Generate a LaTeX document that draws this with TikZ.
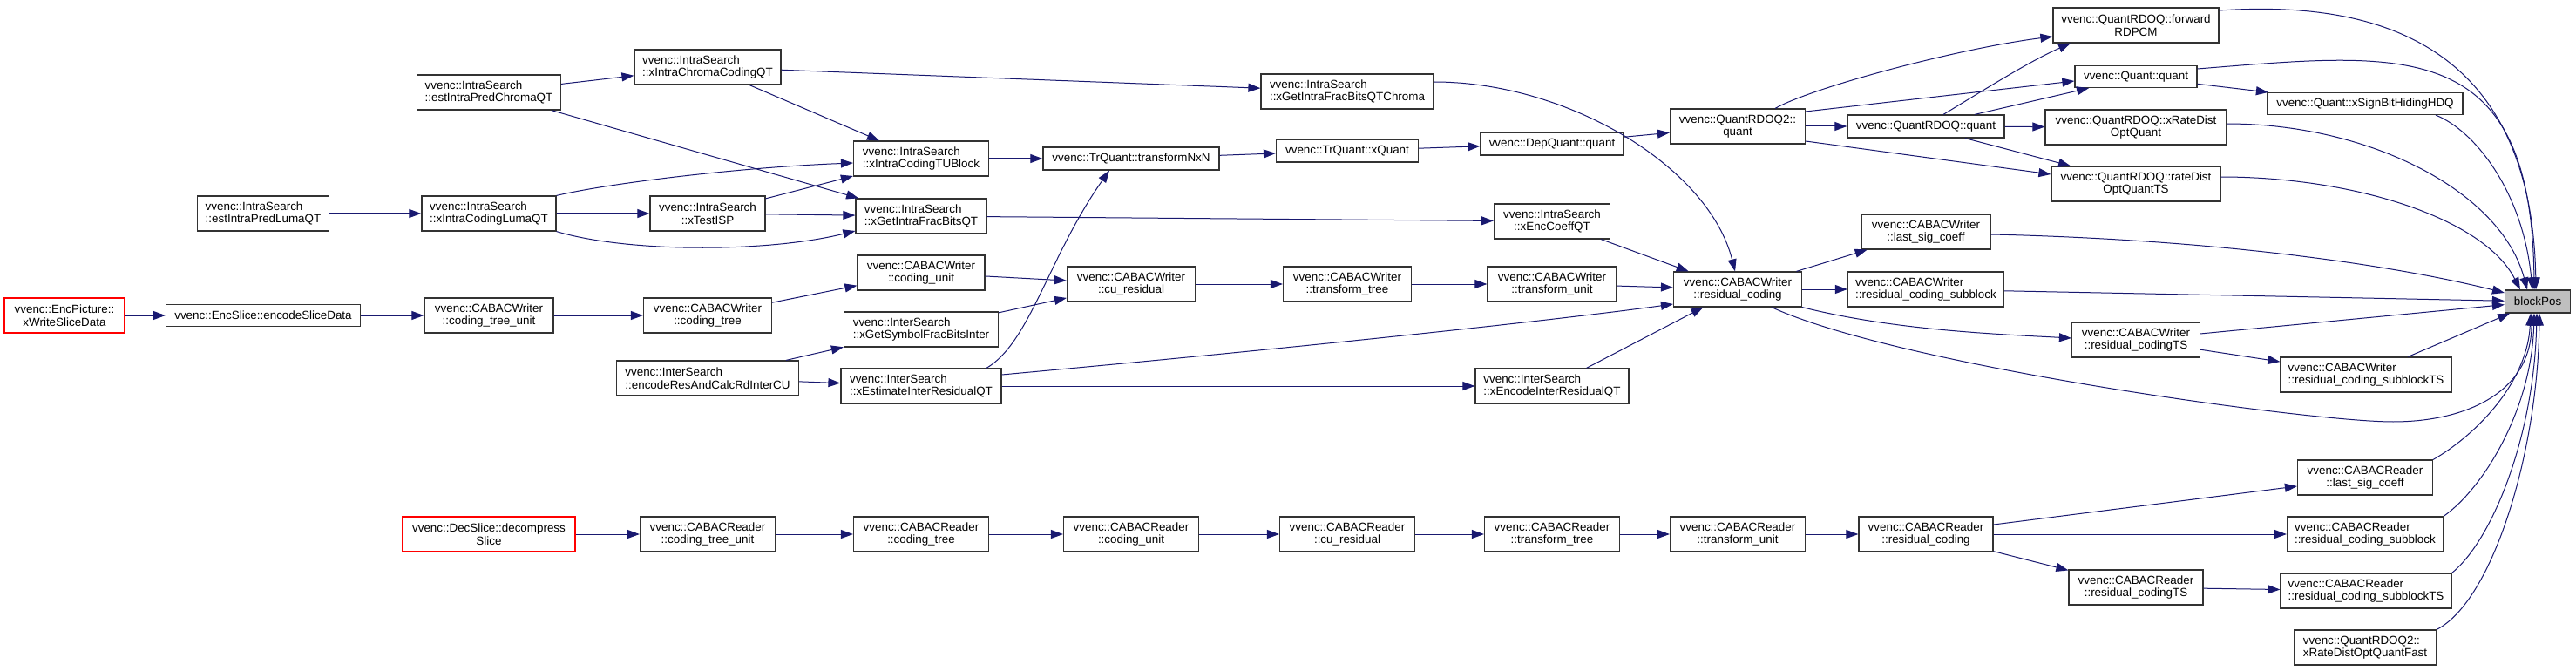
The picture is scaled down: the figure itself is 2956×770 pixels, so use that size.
\documentclass[tikz,border=0pt]{standalone}
\usepackage{fontspec}
\setmainfont{Liberation Sans}
\usetikzlibrary{arrows.meta}
\definecolor{edgeblue}{HTML}{191970}
\begin{document}
\begin{tikzpicture}[x=1pt, y=-1pt,
    fn/.style={draw=black!80, fill=white, line width=1.2pt, inner sep=2pt,
      minimum height=40pt, align=center, font=\fontsize{13.4}{14.5}\selectfont},
    fnl/.style={fn, align=left},
    fnone/.style={fn, minimum height=26pt},
    entry/.style={fn, draw=red},
    target/.style={fnone, fill=gray!50},
    call/.style={draw=edgeblue, line width=1pt, -{Triangle[length=14pt,width=10pt]}}]
  \fill[white] (0,0) rectangle (2956,770);
  \useasboundingbox (0,0) rectangle (2956,770);

  % encoder side
  \node[entry, minimum width=138pt] (wsd) at (74,362) {vvenc::EncPicture::\\xWriteSliceData};
  \node[fnone, minimum width=223pt, minimum height=25pt] (esd) at (302,362) {vvenc::EncSlice::encodeSliceData};
  \node[fn, minimum width=148pt] (wctu) at (561,362) {vvenc::CABACWriter\\::coding\_tree\_unit};
  \node[fn, minimum width=147pt] (wct) at (812,362) {vvenc::CABACWriter\\::coding\_tree};
  \node[fn, minimum width=146pt] (wcu) at (1057,313) {vvenc::CABACWriter\\::coding\_unit};
  \node[fnl, minimum width=177pt] (gsfb) at (1057,378) {vvenc::InterSearch\\::xGetSymbolFracBitsInter};
  \node[fnl, minimum width=209pt] (ercu) at (812,434) {vvenc::InterSearch\\::encodeResAndCalcRdInterCU};
  \node[fnl, minimum width=184pt] (eirq) at (1057,443) {vvenc::InterSearch\\::xEstimateInterResidualQT};
  \node[fn, minimum width=147pt] (wcur) at (1298,326) {vvenc::CABACWriter\\::cu\_residual};
  \node[fn, minimum width=147pt] (wtt) at (1546,326) {vvenc::CABACWriter\\::transform\_tree};
  \node[fn, minimum width=148pt] (wtu) at (1781,326) {vvenc::CABACWriter\\::transform\_unit};
  \node[fn, minimum width=147pt] (wrc) at (1994,332) {vvenc::CABACWriter\\::residual\_coding};
  \node[fnl, minimum width=176pt] (enirq) at (1781,443) {vvenc::InterSearch\\::xEncodeInterResidualQT};
  \node[fn, minimum width=133pt] (eco) at (1781,254) {vvenc::IntraSearch\\::xEncCoeffQT};

  % intra search
  \node[fnl, minimum width=165pt] (epcq) at (561,106) {vvenc::IntraSearch\\::estIntraPredChromaQT};
  \node[fnl, minimum width=168pt] (iccq) at (812,77) {vvenc::IntraSearch\\::xIntraChromaCodingQT};
  \node[fnl, minimum width=151pt] (eplq) at (302,245) {vvenc::IntraSearch\\::estIntraPredLumaQT};
  \node[fnl, minimum width=154pt] (iclq) at (561,245) {vvenc::IntraSearch\\::xIntraCodingLumaQT};
  \node[fn, minimum width=132pt] (tisp) at (812,245) {vvenc::IntraSearch\\::xTestISP};
  \node[fnl, minimum width=155pt] (ictu) at (1057,182) {vvenc::IntraSearch\\::xIntraCodingTUBlock};
  \node[fnl, minimum width=150pt] (gifb) at (1057,248) {vvenc::IntraSearch\\::xGetIntraFracBitsQT};
  \node[fnone, minimum width=202pt] (tnxn) at (1298,182) {vvenc::TrQuant::transformNxN};
  \node[fnone, minimum width=163pt] (xq) at (1546,173) {vvenc::TrQuant::xQuant};
  \node[fnl, minimum width=198pt] (gifc) at (1546,105) {vvenc::IntraSearch\\::xGetIntraFracBitsQTChroma};

  % quantisers
  \node[fnone, minimum width=164pt] (dq) at (1781,165) {vvenc::DepQuant::quant};
  \node[fn, minimum width=155pt] (rq2) at (1994,145) {vvenc::QuantRDOQ2::\\quant};
  \node[fnone, minimum width=180pt] (rq) at (2210,145) {vvenc::QuantRDOQ::quant};
  \node[fn, minimum width=190pt] (fwd) at (2451,29) {vvenc::QuantRDOQ::forward\\RDPCM};
  \node[fnone, minimum width=140pt, minimum height=25pt] (qq) at (2451,88) {vvenc::Quant::quant};
  \node[fnone, minimum width=224pt, minimum height=25pt] (sbh) at (2714,119) {vvenc::Quant::xSignBitHidingHDQ};
  \node[fn, minimum width=208pt] (rdoq) at (2451,146) {vvenc::QuantRDOQ::xRateDist\\OptQuant};
  \node[fn, minimum width=194pt] (rdts) at (2451,211) {vvenc::QuantRDOQ::rateDist\\OptQuantTS};
  \node[fn, minimum width=148pt] (wlsc) at (2210,266) {vvenc::CABACWriter\\::last\_sig\_coeff};
  \node[fnl, minimum width=179pt] (wrcs) at (2210,332) {vvenc::CABACWriter\\::residual\_coding\_subblock};
  \node[fn, minimum width=147pt] (wrcts) at (2451,390) {vvenc::CABACWriter\\::residual\_codingTS};
  \node[fnl, minimum width=196pt] (wrcsts) at (2715,430) {vvenc::CABACWriter\\::residual\_coding\_subblockTS};
  \node[target, minimum width=75pt] (bp) at (2912,346) {blockPos};

  % decoder side
  \node[entry, minimum width=198pt] (ds) at (561,613) {vvenc::DecSlice::decompress\\Slice};
  \node[fn, minimum width=155pt] (rctu) at (812,613) {vvenc::CABACReader\\::coding\_tree\_unit};
  \node[fn, minimum width=155pt] (rct) at (1057,613) {vvenc::CABACReader\\::coding\_tree};
  \node[fn, minimum width=155pt] (rcu) at (1298,613) {vvenc::CABACReader\\::coding\_unit};
  \node[fn, minimum width=155pt] (rcur) at (1546,613) {vvenc::CABACReader\\::cu\_residual};
  \node[fn, minimum width=155pt] (rtt) at (1781,613) {vvenc::CABACReader\\::transform\_tree};
  \node[fn, minimum width=155pt] (rtu) at (1994,613) {vvenc::CABACReader\\::transform\_unit};
  \node[fn, minimum width=154pt] (rrc) at (2210,613) {vvenc::CABACReader\\::residual\_coding};
  \node[fn, minimum width=155pt] (rlsc) at (2714,548) {vvenc::CABACReader\\::last\_sig\_coeff};
  \node[fnl, minimum width=179pt] (rrcs) at (2714,613) {vvenc::CABACReader\\::residual\_coding\_subblock};
  \node[fn, minimum width=154pt] (rrcts) at (2451,674) {vvenc::CABACReader\\::residual\_codingTS};
  \node[fnl, minimum width=196pt] (rrcsts) at (2715,678) {vvenc::CABACReader\\::residual\_coding\_subblockTS};
  \node[fnl, minimum width=163pt] (rdqf) at (2714,743) {vvenc::QuantRDOQ2::\\xRateDistOptQuantFast};

  % encoder calls
  \draw[call] (wsd) -- (esd);
  \draw[call] (esd) -- (wctu);
  \draw[call] (wctu) -- (wct);
  \draw[call] (wct) -- (wcu);
  \draw[call] (wcu) -- (wcur);
  \draw[call] (gsfb) -- (wcur);
  \draw[call] (ercu) -- (gsfb);
  \draw[call] (ercu) -- (eirq);
  \draw[call] (wcur) -- (wtt);
  \draw[call] (wtt) -- (wtu);
  \draw[call] (wtu) -- (wrc);
  \draw[call] (eirq) -- (enirq);
  \draw[call] (enirq) -- (wrc);
  \draw[call] ([yshift=13pt]eirq.east) .. controls (1500,398) and (1780,368) .. ([yshift=-17pt]wrc.west);
  \draw[call] ([xshift=75pt]eirq.north) .. controls (1182,393) and (1203,295) .. ([xshift=-25pt]tnxn.south);

  % intra calls
  \draw[call] (epcq) -- (iccq);
  \draw[call] (epcq) -- (gifb);
  \draw[call] (iccq) -- (ictu);
  \draw[call] (iccq) -- (gifc);
  \draw[call] (eplq) -- (iclq);
  \draw[call] (iclq.north east) .. controls (700,210) and (850,192) .. ([yshift=-5pt]ictu.west);
  \draw[call] (iclq) -- (tisp);
  \draw[call] (iclq.south east) .. controls (720,290) and (880,290) .. ([yshift=-17pt]gifb.west);
  \draw[call] (tisp) -- (ictu);
  \draw[call] (tisp) -- (gifb);
  \draw[call] (ictu) -- (tnxn);
  \draw[call] (gifb) -- (eco);
  \draw[call] (tnxn) -- (xq);
  \draw[call] (xq) -- (dq);
  \draw[call] (dq) -- (rq2);
  \draw[call] (eco) -- (wrc);
  \draw[call] ([yshift=11pt]gifc.east) .. controls (1800,94) and (1961,192) .. ([xshift=-3pt]wrc.north);

  % quantiser calls
  \draw[call] ([xshift=43pt]rq2.north) .. controls (2080,100) and (2250,55) .. ([yshift=-13pt]fwd.west);
  \draw[call] ([yshift=17pt]rq2.east) -- ([yshift=-5pt]qq.west);
  \draw[call] (rq2) -- (rq);
  \draw[call] ([yshift=-17pt]rq2.east) -- ([yshift=11pt]rdts.west);
  \draw[call] ([xshift=20pt]rq.north) .. controls (2290,95) and (2330,70) .. ([xshift=-75pt]fwd.south);
  \draw[call] ([xshift=56pt]rq.north) -- ([xshift=-54pt]qq.south);
  \draw[call] (rq) -- (rdoq);
  \draw[call] ([xshift=45pt]rq.south) -- ([xshift=-75pt]rdts.north);
  \draw[call] (qq) -- (sbh);
  \draw[call] (wrc) -- (wlsc);
  \draw[call] (wrc) -- (wrcs);
  \draw[call] (wrc.south east) .. controls (2170,378) and (2280,383) .. ([yshift=2pt]wrcts.west);
  \draw[call] (wrcts) -- (wrcsts);

  % into blockPos, from above
  \draw[call] ([yshift=17pt]fwd.east) .. controls (2700,2) and (2905,30) .. ([xshift=-2pt]bp.north);
  \draw[call] ([yshift=9pt]qq.east) .. controls (2760,60) and (2905,40) .. ([xshift=-4pt]bp.north);
  \draw[call] ([xshift=81pt]sbh.south) .. controls (2840,150) and (2895,220) .. ([xshift=-6pt]bp.north);
  \draw[call] ([yshift=4pt]rdoq.east) .. controls (2720,142) and (2870,220) .. ([xshift=-12pt]bp.north);
  \draw[call] ([yshift=8pt]rdts.east) .. controls (2700,203) and (2850,250) .. ([xshift=-20pt]bp.north);
  \draw[call] ([yshift=-3pt]wlsc.east) .. controls (2550,275) and (2750,305) .. ([yshift=10pt]bp.west);
  \draw[call] (wrcs) -- (bp);
  \draw[call] (wrcts) -- (bp);
  \draw[call] (wrcsts) -- (bp);
  \coordinate (dip) at (2746,484);
  \draw[call] ([xshift=39pt]wrc.south) .. controls (2180,420) and (2650,484) .. (dip)
    .. controls (2830,484) and (2905,450) .. ([xshift=-7pt]bp.south);

  % decoder calls
  \draw[call] (ds) -- (rctu);
  \draw[call] (rctu) -- (rct);
  \draw[call] (rct) -- (rcu);
  \draw[call] (rcu) -- (rcur);
  \draw[call] (rcur) -- (rtt);
  \draw[call] (rtt) -- (rtu);
  \draw[call] (rtu) -- (rrc);
  \draw[call] ([yshift=11pt]rrc.east) -- ([yshift=-10pt]rlsc.west);
  \draw[call] (rrc) -- (rrcs);
  \draw[call] (rrc) -- (rrcts);
  \draw[call] (rrcts) -- (rrcsts);

  % into blockPos, from below
  \draw[call] (rlsc.north east) .. controls (2840,500) and (2900,440) .. ([xshift=-8pt]bp.south);
  \draw[call] (rrcs.north east) .. controls (2850,560) and (2905,470) .. ([xshift=-4pt]bp.south);
  \draw[call] (rrcsts.north east) .. controls (2860,620) and (2908,500) .. ([xshift=-1pt]bp.south);
  \draw[call] (rdqf.north east) .. controls (2860,690) and (2912,520) .. ([xshift=2pt]bp.south);
\end{tikzpicture}
\end{document}
